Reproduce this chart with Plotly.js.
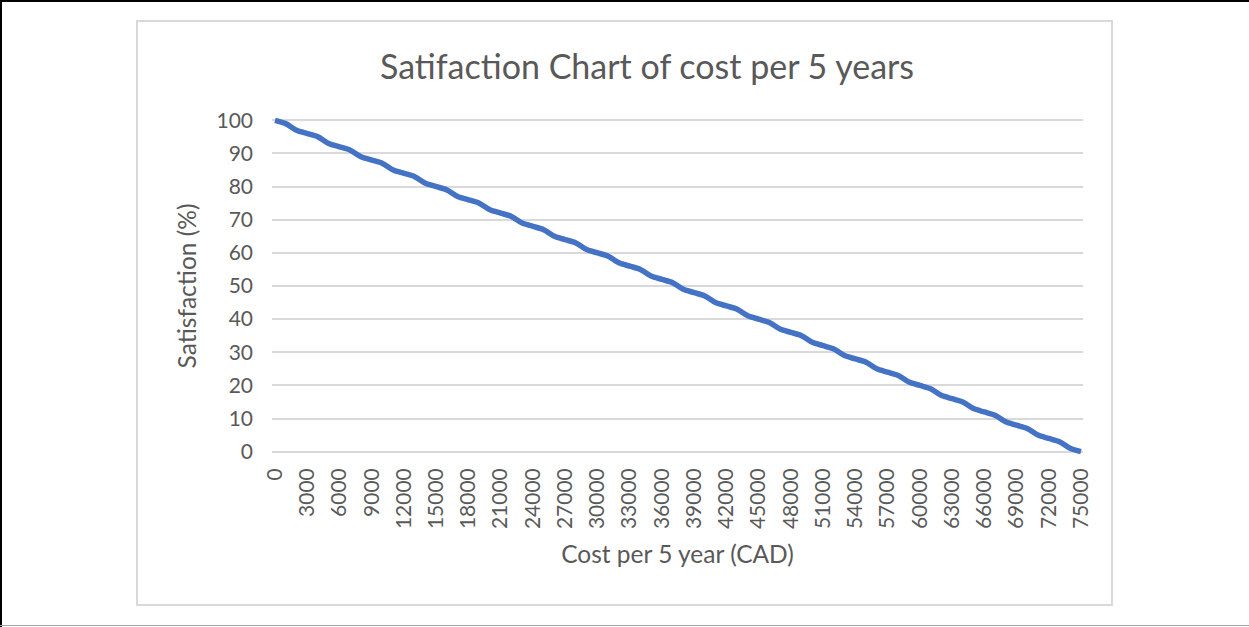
<!DOCTYPE html>
<html>
<head>
<meta charset="utf-8">
<script src="https://cdn.plot.ly/plotly-3.0.1.min.js"></script>
<style>
  html, body { margin: 0; padding: 0; background: #ffffff; }
  #page { position: relative; width: 1249px; height: 627px; overflow: hidden; background: #ffffff; }
  #edgeTop { position: absolute; left: 0; top: 0; width: 1249px; height: 2px; background: #000000; }
  #edgeLeft { position: absolute; left: 0; top: 0; width: 2px; height: 627px; background: #000000; }
  #edgeBottom { position: absolute; left: 0; top: 625px; width: 1249px; height: 1px; background: #a6a6a6; }
  #frame { position: absolute; left: 136px; top: 20px; width: 973px; height: 582px; border: 2px solid #d9d9d9; }
  #chart { position: absolute; left: 0; top: 0; width: 1249px; height: 627px; }
</style>
</head>
<body>
<div id="page">
  <div id="edgeTop"></div>
  <div id="edgeLeft"></div>
  <div id="edgeBottom"></div>
  <div id="frame"></div>
  <div id="chart"></div>
</div>
<script>
// Cost per 5 years (CAD), one point every 1000
const cost = [
  0, 1000, 2000, 3000, 4000, 5000, 6000, 7000, 8000, 9000,
  10000, 11000, 12000, 13000, 14000, 15000, 16000, 17000, 18000, 19000,
  20000, 21000, 22000, 23000, 24000, 25000, 26000, 27000, 28000, 29000,
  30000, 31000, 32000, 33000, 34000, 35000, 36000, 37000, 38000, 39000,
  40000, 41000, 42000, 43000, 44000, 45000, 46000, 47000, 48000, 49000,
  50000, 51000, 52000, 53000, 54000, 55000, 56000, 57000, 58000, 59000,
  60000, 61000, 62000, 63000, 64000, 65000, 66000, 67000, 68000, 69000,
  70000, 71000, 72000, 73000, 74000, 75000
];

// Satisfaction (%) at each cost level
const satisfaction = [
  100, 99, 97, 96, 95, 93, 92, 91, 89, 88,
  87, 85, 84, 83, 81, 80, 79, 77, 76, 75,
  73, 72, 71, 69, 68, 67, 65, 64, 63, 61,
  60, 59, 57, 56, 55, 53, 52, 51, 49, 48,
  47, 45, 44, 43, 41, 40, 39, 37, 36, 35,
  33, 32, 31, 29, 28, 27, 25, 24, 23, 21,
  20, 19, 17, 16, 15, 13, 12, 11, 9, 8,
  7, 5, 4, 3, 1, 0
];

// Labelled categories along the cost axis
const costTicks = [
  0, 3000, 6000, 9000, 12000, 15000, 18000, 21000, 24000, 27000,
  30000, 33000, 36000, 39000, 42000, 45000, 48000, 51000, 54000, 57000,
  60000, 63000, 66000, 69000, 72000, 75000
];
const costTickText = costTicks.map(String);

const satTicks = [0, 10, 20, 30, 40, 50, 60, 70, 80, 90, 100];

const FONT = 'Lato, "Open Sans", sans-serif';
const GREY_TEXT = '#595959';
const GRID = '#d9d9d9';

const trace = {
  type: 'scatter',
  mode: 'lines',
  x: cost,
  y: satisfaction,
  line: { color: '#4472c4', width: 5.5, shape: 'spline', smoothing: 0.8 },
  hoverinfo: 'x+y'
};

const layout = {
  width: 1249,
  height: 627,
  paper_bgcolor: 'rgba(0,0,0,0)',
  plot_bgcolor: 'rgba(0,0,0,0)',
  showlegend: false,
  margin: { l: 272, r: 166, t: 117, b: 172, pad: 0 },
  font: { family: FONT, color: GREY_TEXT },
  title: {
    text: 'Satifaction Chart of cost per 5 years',
    font: { family: FONT, size: 34, color: GREY_TEXT },
    xref: 'container', yref: 'container',
    x: 647 / 1249, xanchor: 'center',
    y: 1 - 67 / 627, yanchor: 'middle'
  },
  xaxis: {
    type: 'linear',
    range: [-280, 75190],
    tickmode: 'array',
    tickvals: costTicks,
    ticktext: costTickText,
    tickangle: -90,
    tickfont: { family: FONT, size: 21, color: GREY_TEXT },
    ticks: '',
    ticklabelstandoff: 8,
    showgrid: false,
    zeroline: false,
    showline: false,
    title: {
      text: 'Cost per 5 year (CAD)',
      font: { family: FONT, size: 24.5, color: GREY_TEXT },
      standoff: 17
    },
    automargin: false
  },
  yaxis: {
    range: [-1, 101],
    tickmode: 'array',
    tickvals: satTicks,
    tickfont: { family: FONT, size: 21, color: GREY_TEXT },
    ticks: '',
    ticklabelstandoff: 18,
    showgrid: true,
    gridcolor: GRID,
    gridwidth: 2,
    zeroline: false,
    showline: false,
    title: {
      text: 'Satisfaction (%)',
      font: { family: FONT, size: 24.5, color: GREY_TEXT },
      standoff: 12
    },
    automargin: false
  }
};

Plotly.newPlot('chart', [trace], layout, { displayModeBar: false, staticPlot: true });
</script>
</body>
</html>
